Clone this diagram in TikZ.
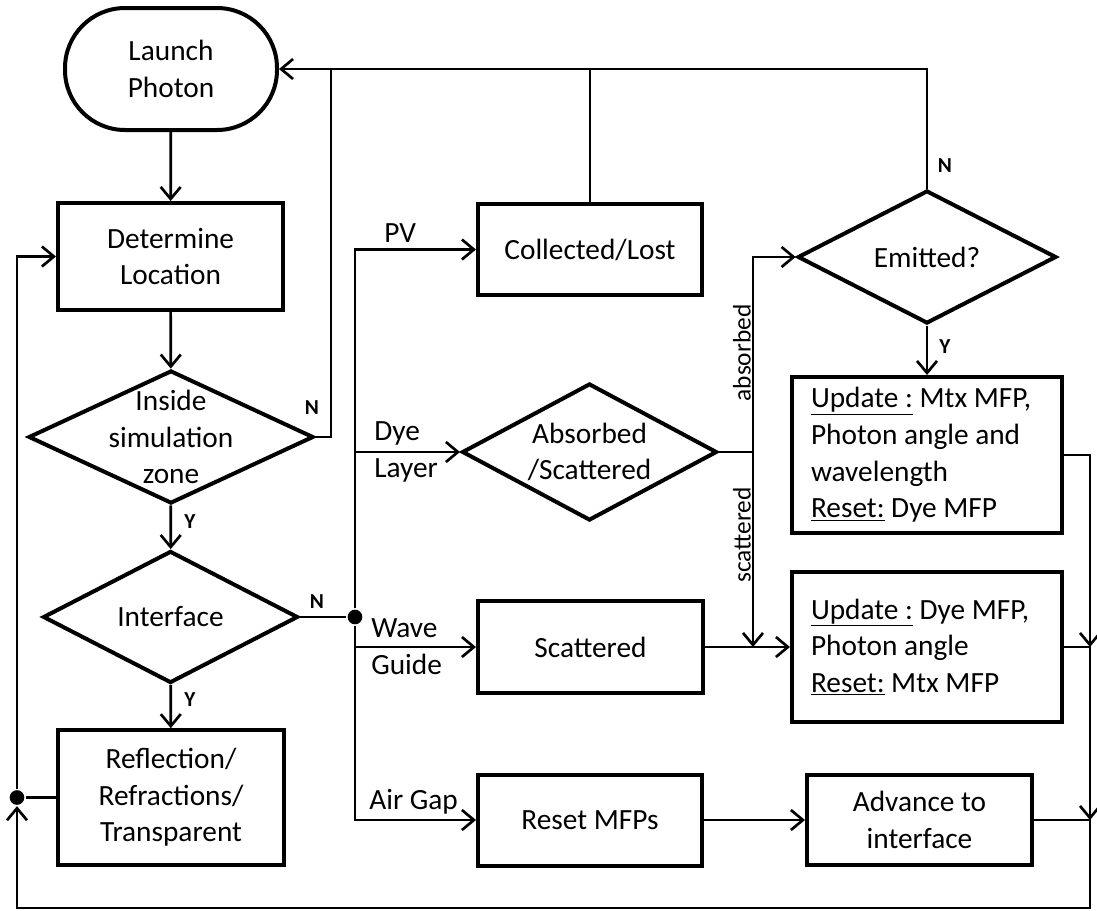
\documentclass[tikz,border=0pt]{standalone}
\usepackage{fontspec}
\setmainfont{Carlito}
\usetikzlibrary{shapes.geometric,arrows.meta}

\newcommand\boxfont{\fontsize{22}{27.5}\selectfont}
\newcommand\ynfont{\fontsize{16}{18}\selectfont\bfseries}
\newcommand\sidefont{\fontsize{19}{22}\selectfont}

\tikzset{
  block/.style={draw, line width=3pt, font=\boxfont, align=center, inner sep=2pt},
  terminal/.style={block, rounded corners=45pt, minimum width=159pt, minimum height=91.5pt},
  decision/.style={draw, diamond, line width=3pt, inner sep=0pt},
  dtext/.style={font=\boxfont, align=center, inner sep=0pt},
  update/.style={block, align=flush left, text width=174pt, inner xsep=14pt, minimum width=202.5pt},
  dot/.style={circle, fill, inner sep=0pt, minimum size=11pt},
  lbl/.style={font=\boxfont, align=left, inner sep=0pt},
  yn/.style={font=\ynfont, inner sep=0pt},
  side/.style={font=\sidefont, inner sep=0pt},
}

\begin{document}
\begin{tikzpicture}[x=.75pt, y=-.75pt, line width=2pt,
    >={Straight Barb[length=9pt,width=15pt]}]
  \useasboundingbox (0,0) rectangle (1097,911);

  % left column
  \node[terminal] (launch) at (171,69) {Launch\\Photon};
  \node[block, minimum width=168.75pt, minimum height=80.25pt] (locate) at (170.5,256.5) {Determine\\Location};
  \node[decision, minimum width=213.75pt, minimum height=99.75pt,
    label={[dtext]center:Inside\\simulation\\zone}] (inside) at (171,437) {};
  \node[decision, minimum width=191.25pt, minimum height=99pt,
    label={[dtext]center:Interface}] (iface) at (170.5,617) {};
  \node[block, minimum width=169.5pt, minimum height=101pt] (reflect) at (171,797.5) {Reflection/\\Refractions/\\Transparent};

  % middle column
  \node[block, minimum width=168pt, minimum height=68.25pt] (collect) at (590,249.5) {Collected/Lost};
  \node[decision, minimum width=191.25pt, minimum height=102.75pt,
    label={[dtext]center:Absorbed\\/Scattered}] (absorb) at (589.5,452) {};
  \node[block, minimum width=168.75pt, minimum height=69pt] (scatter) at (590.5,647) {Scattered};
  \node[block, minimum width=168pt, minimum height=68.25pt] (reset) at (590,820) {Reset MFPs};

  % right column
  \node[decision, minimum width=194pt, minimum height=99.75pt,
    label={[dtext]center:Emitted?}] (emit) at (927,257) {};
  \node[update, minimum height=117pt] (upd1) at (927,455)
    {\underline{Update :} Mtx MFP,\\Photon angle and\\wavelength\\\underline{Reset:} Dye MFP};
  \node[update, minimum height=112.5pt] (upd2) at (927,647)
    {\underline{Update :} Dye MFP,\\Photon angle\\\underline{Reset:} Mtx MFP};
  \node[block, minimum width=168.75pt, minimum height=67.5pt] (advance) at (919.5,820) {Advance to\\interface};

  % junctions
  \node[dot] (split) at (355,617) {};
  \node[dot] (loopdot) at (17,797.5) {};
  \coordinate (topN) at (331,69);
  \coordinate (fork) at (753,452);
  \coordinate (rail1) at (1090,647);
  \coordinate (rail2) at (1090,820);
  \coordinate (rail3) at (1090,908);

  % main flow
  \path (launch) edge [->] (locate);
  \path (locate) edge [->] (inside);
  \path (inside) edge [->] (iface);
  \path (iface) edge [->] (reflect);
  \draw (inside.east) -| (topN);
  \draw[->] (emit.north) |- (launch.east);
  \draw (collect.north) -- (collect.north |- launch.east);
  \draw (iface.east) -- (split);
  \draw (reflect.west) -- (loopdot);
  \draw[->] (loopdot) |- (locate.west);

  % material branches
  \draw[->] (split) |- (collect.west);
  \draw[->] (split) |- (absorb.west);
  \draw[->] (split) |- (scatter.west);
  \draw[->] (split) |- (reset.west);
  \draw (absorb.east) -- (fork);
  \draw[->] (fork) |- (emit.west);
  \draw[->] (fork) -- (fork |- scatter.east);
  \draw[->] (scatter.east) -- (upd2.west);
  \draw[->] (reset) -- (advance);
  \draw[->] (emit) -- (upd1);

  % back to the start
  \draw[->] (upd1.east) -| (rail1);
  \draw[->] (upd2.east) -| (rail2);
  \draw[->] (advance.east) -| (rail3) -| (loopdot);

  % labels
  \node[yn] (nIn) at (312,408) {N};
  \node[yn] (yIn) at (190,522) {Y};
  \node[yn] (nIf) at (317,602) {N};
  \node[yn] (yIf) at (190,700) {Y};
  \node[yn] (nEm) at (945,166) {N};
  \node[yn] (yEm) at (945,347) {Y};
  \node[lbl, anchor=west] (pv) at (383,233) {PV};
  \node[lbl, anchor=west] (dye) at (373,452) {Dye\\Layer};
  \node[lbl, anchor=west] (wave) at (370,647) {Wave\\Guide};
  \node[lbl, anchor=west] (air) at (368,802) {Air Gap};
  \node[side, rotate=90] (absl) at (742,353) {absorbed};
  \node[side, rotate=90] (scal) at (742,535) {scattered};
\end{tikzpicture}
\end{document}
